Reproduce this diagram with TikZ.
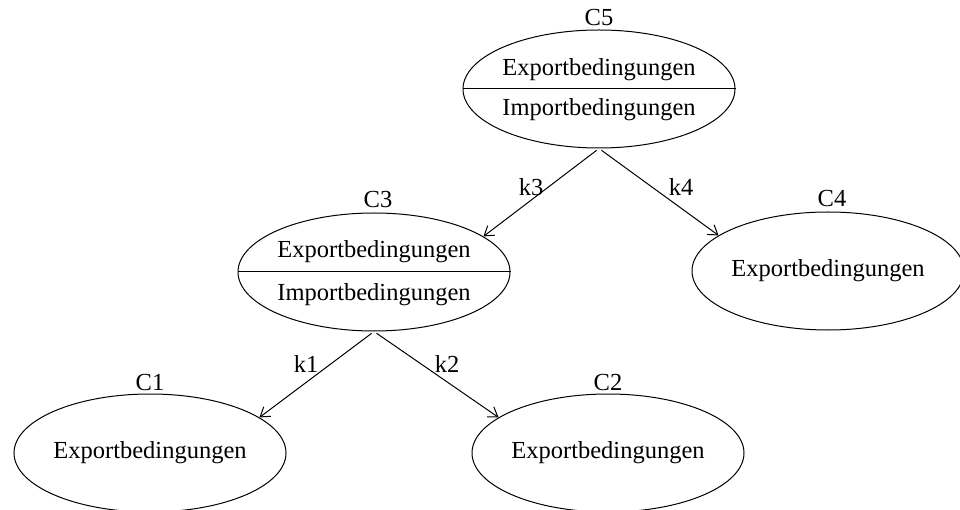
\documentclass[tikz,border=0pt]{standalone}
\usepackage{fontspec}
\setmainfont{Liberation Serif}
\usetikzlibrary{shapes.geometric,arrows.meta}
\tikzset{
  cls/.style={ellipse, draw, line width=1pt, minimum width=272pt, minimum height=118pt, inner sep=0pt},
  txt/.style={font=\fontsize{24.5}{28}\selectfont, inner sep=0pt},
  link/.style={line width=1pt, shorten <=3pt, -{Straight Barb[length=9pt,width=12pt,line width=1pt]}},
  divider/.style={line width=1pt}
}
\begin{document}
\begin{tikzpicture}[x=1pt,y=-1pt]
  \useasboundingbox (0,0) rectangle (960,510);

  % classes
  \node[cls] (c5) at (599,89) {};
  \node[cls] (c3) at (374,272) {};
  \node[cls] (c4) at (828,271) {};
  \node[cls] (c1) at (150,453) {};
  \node[cls] (c2) at (608,453) {};

  % split classes: export above, import below
  \draw[divider] (c5.west) -- (c5.east);
  \draw[divider] (c3.west) -- (c3.east);
  \node[txt] (c5e) at (599,70) {Exportbedingungen};
  \node[txt] (c5i) at (599,110) {Importbedingungen};
  \node[txt] (c3e) at (374,252) {Exportbedingungen};
  \node[txt] (c3i) at (374,295) {Importbedingungen};
  \node[txt] (c4e) at (828,271) {Exportbedingungen};
  \node[txt] (c1e) at (150,453) {Exportbedingungen};
  \node[txt] (c2e) at (608,453) {Exportbedingungen};

  % class names
  \node[txt] (n5) at (599,18) {C5};
  \node[txt] (n3) at (378,200) {C3};
  \node[txt] (n4) at (832,199) {C4};
  \node[txt] (n1) at (150,383) {C1};
  \node[txt] (n2) at (608,383) {C2};

  % connectors
  \draw[link] (c5.south) -- (c3.18);
  \draw[link] (c5.south) -- (c4.162);
  \draw[link] (c3.south) -- (c1.18);
  \draw[link] (c3.south) -- (c2.162);

  % connector labels
  \node[txt] (k3) at (531,187) {k3};
  \node[txt] (k4) at (681,187) {k4};
  \node[txt] (k1) at (306,364) {k1};
  \node[txt] (k2) at (447,364) {k2};
\end{tikzpicture}
\end{document}
